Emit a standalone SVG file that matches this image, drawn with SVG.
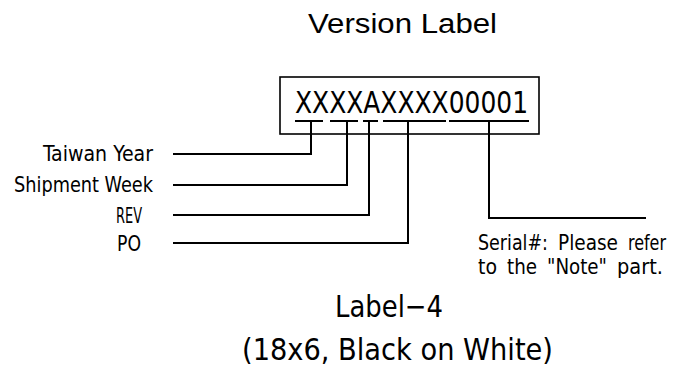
<svg xmlns="http://www.w3.org/2000/svg" width="673" height="371" viewBox="0 0 673 371">
<style>
.cad{font-family:"DejaVu Sans Condensed","DejaVu Sans","Liberation Sans Narrow",sans-serif;fill:#000}
.lbl{font-size:21.5px}
.ln{stroke:#000;stroke-width:2;fill:none}
</style>
<rect width="673" height="371" fill="#fff"/>
<g id="title"><text x="308" y="33" font-family="Liberation Sans, Arial, sans-serif" font-size="27" textLength="189" lengthAdjust="spacingAndGlyphs">Version Label</text></g>
<g id="label-box">
<rect x="280" y="77" width="259" height="57" fill="none" stroke="#000" stroke-width="1.6"/>
<text class="cad" x="295" y="113" font-size="30" textLength="233" lengthAdjust="spacingAndGlyphs">XXXXAXXXX00001</text>
</g>
<g id="connectors" class="ln">
<path d="M295 121H323M330 121H358M363 121H378M383 121H446M449 121H529"/>
<path d="M311 121V154H173"/>
<path d="M347 121V185H173"/>
<path d="M369 121V215H173"/>
<path d="M408 121V243H173"/>
<path d="M489 121V218H646"/>
</g>
<g id="taiwan-year"><text class="cad lbl" x="153" y="161" text-anchor="end" textLength="110" lengthAdjust="spacingAndGlyphs">Taiwan Year</text></g>
<g id="shipment-week"><text class="cad lbl" x="153" y="192" text-anchor="end" textLength="139" lengthAdjust="spacingAndGlyphs">Shipment Week</text></g>
<g id="rev"><text class="cad lbl" x="142" y="223" text-anchor="end" textLength="26" lengthAdjust="spacingAndGlyphs">REV</text></g>
<g id="po"><text class="cad lbl" x="141" y="251" text-anchor="end" textLength="24" lengthAdjust="spacingAndGlyphs">PO</text></g>
<g id="serial" class="cad lbl">
<text x="478" y="250" textLength="70" lengthAdjust="spacingAndGlyphs">Serial#:</text>
<text x="558" y="250" textLength="60" lengthAdjust="spacingAndGlyphs">Please</text>
<text x="628" y="250" textLength="38" lengthAdjust="spacingAndGlyphs">refer</text>
<text x="478" y="274" textLength="19" lengthAdjust="spacingAndGlyphs">to</text>
<text x="507" y="274" textLength="30" lengthAdjust="spacingAndGlyphs">the</text>
<text x="547" y="274" textLength="60" lengthAdjust="spacingAndGlyphs">"Note"</text>
<text x="617" y="274" textLength="46" lengthAdjust="spacingAndGlyphs">part.</text>
</g>
<g id="caption">
<text class="cad" x="335" y="317" font-size="31" textLength="108" lengthAdjust="spacingAndGlyphs">Label−4</text>
<text class="cad" x="242" y="360" font-size="31" textLength="311" lengthAdjust="spacingAndGlyphs">(18x6, Black on White)</text>
</g>
</svg>
